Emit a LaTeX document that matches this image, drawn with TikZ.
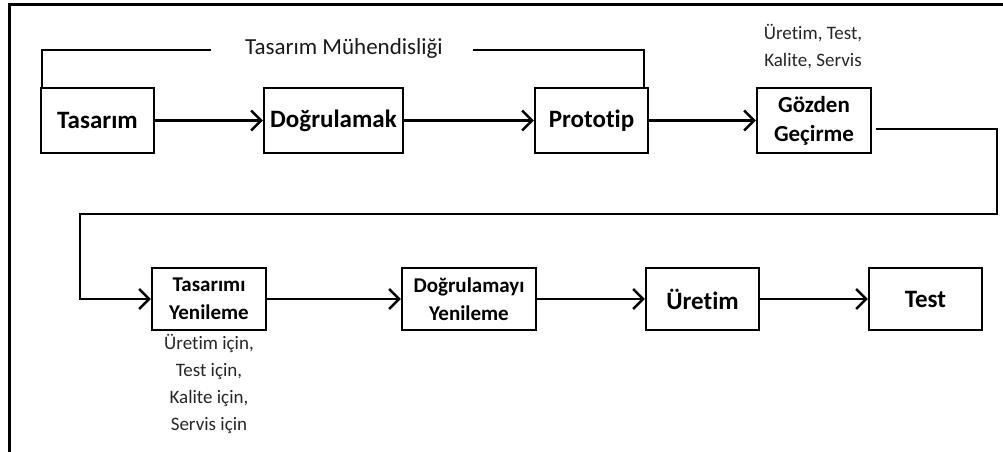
\documentclass[tikz,border=0pt]{standalone}
\usepackage{fontspec}
\setmainfont{Carlito}[Ligatures=NoCommon]
\usetikzlibrary{arrows.meta}
\begin{document}
\begin{tikzpicture}[x=1pt,y=-1pt,
  box/.style={draw,line width=2.4pt,inner sep=0pt,font=\bfseries\fontsize{25}{29}\selectfont,align=center},
  smallbox/.style={box,font=\bfseries\fontsize{21}{28}\selectfont},
  head/.style={-{Straight Barb[length=10pt,width=20pt,line width=2.4pt]}},
  flow/.style={line width=2.4pt,head},
  link/.style={line width=2.4pt},
  thin/.style={line width=1.2pt},
  note/.style={font=\fontsize{19}{27}\selectfont,align=center,text=black!85}]
\useasboundingbox (0,0) rectangle (1003,452);
% outer frame
\draw[line width=3pt] (9,452) -- (9,5) -- (1003,5);
% top row
\node[box,minimum width=113pt,minimum height=65pt,text depth=0pt] (tas) at (97.5,120.5) {Tasarım};
\node[box,minimum width=139pt,minimum height=65pt] (dog) at (333.5,120.5) {Doğrulamak};
\node[box,minimum width=113pt,minimum height=65pt] (pro) at (591.5,120.5) {Prototip};
\node[smallbox,minimum width=114pt,minimum height=65pt,font=\bfseries\fontsize{23}{29}\selectfont] (goz) at (814,120.5) {Gözden\\Geçirme};
% bottom row
\node[smallbox,minimum width=114pt,minimum height=62pt] (tyen) at (209,299) {Tasarımı\\Yenileme};
\node[smallbox,minimum width=134pt,minimum height=62pt] (dyen) at (469,299) {Doğrulamayı\\Yenileme};
\node[box,minimum width=113pt,minimum height=62pt] (ure) at (702.5,299) {Üretim};
\node[box,minimum width=113pt,minimum height=62pt] (tst) at (925.5,299) {Test};
% bracket over the design stages
\node[note,font=\fontsize{23}{27}\selectfont,inner sep=0pt,text=black!90] (eng) at (344,48) {Tasarım Mühendisliği};
\coordinate (bl) at (42,50);
\coordinate (br) at (644,50);
\draw[thin] (tas.north west -| bl) -- (bl) -- (211,50);
\draw[thin] (473,50) -- (br) -- (pro.north west -| br);
% notes
\node[note] (n1) at (813,47) {Üretim, Test,\\Kalite, Servis};
\node[note,anchor=north] (n2) at (209,331) {Üretim için,\\Test için,\\Kalite için,\\Servis için};
% connectors
\draw[flow] (tas) -- (dog);
\draw[flow] (dog) -- (pro);
\draw[flow] (pro) -- (goz);
\coordinate (r1) at (997,129);
\coordinate (r2) at (997,214);
\coordinate (l2) at (80,214);
\draw[link,head] ([xshift=4pt]goz.east |- r1) -- (r1) -- (r2) -- (l2) |- (tyen.west);
\draw[flow] (tyen) -- (dyen);
\draw[flow] (dyen) -- (ure);
\draw[flow] (ure) -- (tst);
\end{tikzpicture}
\end{document}
